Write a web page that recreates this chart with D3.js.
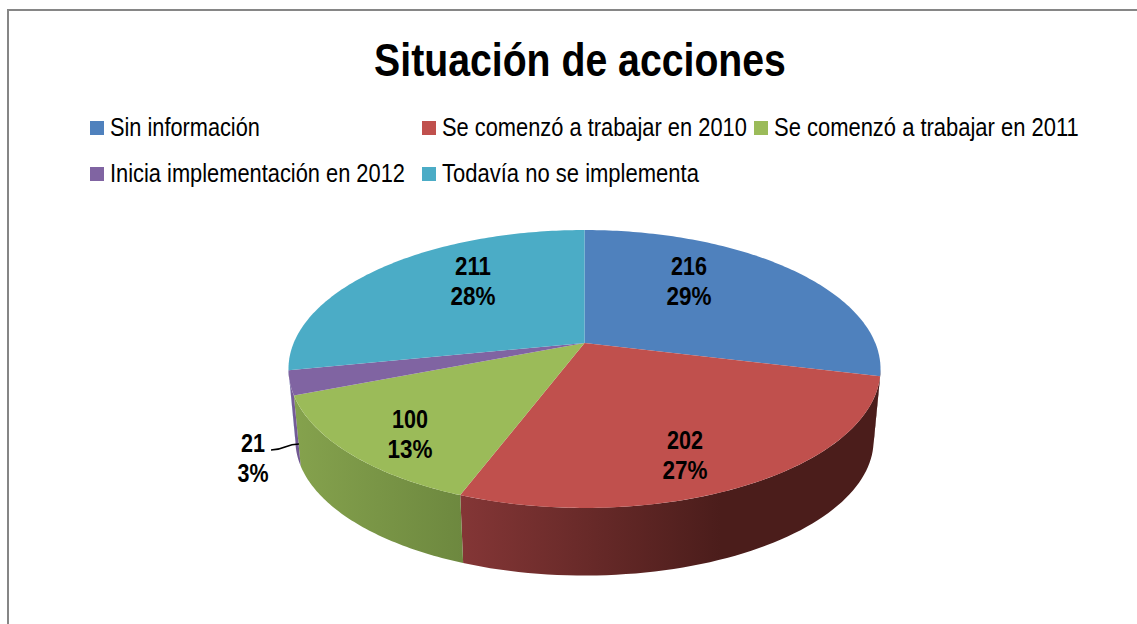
<!DOCTYPE html>
<html><head><meta charset="utf-8">
<script src="https://cdn.jsdelivr.net/npm/d3@7/dist/d3.min.js"></script>
<style>html,body{margin:0;padding:0;background:#fff;overflow:hidden}svg{display:block}
text{fill:#000}</style>
</head><body><svg id="c" width="1137" height="624"></svg>
<script>
const titleText = "Situación de acciones";
const categories = ["Sin información","Se comenzó a trabajar en 2010","Se comenzó a trabajar en 2011","Inicia implementación en 2012","Todavía no se implementa"];
const values = [216,202,100,21,211];
const percents = ["29%","27%","13%","3%","28%"];
const topColors = ["#4f81bd","#c0504d","#9bbb59","#8064a2","#4bacc6"];
const wallFrom = ["#4b1d1b","#4b1d1b","#6d883f","#6f5790","#4bacc6"];
const wallTo = ["#4b1d1b","#843636","#85a24d","#7a5f9c","#4bacc6"];

// layout (pixels): legend x, baseline, text width
const legendLayout = [[90,135,150],[422,135,305],[754,135,305],[90,181,295],[422,181,257]];
const labelLayout = [[689,275],[685,449],[410,428],[253,452],[473,275]];
const labelWidths = [[36,45],[36,45],[36,45],[24,31],[36,45]];
const cx=584.5, eyeK=0.187;
const planes = {top:{cy:343,a:290.8,b:134.1},bottom:{cy:415,a:284,b:130.5}};
const svg = d3.select("#c");

// draw text at x,y squeezed horizontally to a given pixel width
function fitted(x,y,str,size,weight,width,anchor,family){
  const t=svg.append("text").attr("font-size",size).attr("font-weight",weight)
    .style("font-family",family).attr("text-anchor",anchor).text(str);
  const natural=t.node().getComputedTextLength();
  t.attr("transform",`translate(${x},${y}) scale(${width/natural},1)`);
  return t;
}
const SANS='"Liberation Sans",Arial,sans-serif';

function project(angle,r,pl){
  const x=r*Math.sin(angle), y=r*Math.cos(angle), d=1+eyeK*y;
  return [cx+pl.a*x/d, pl.cy-pl.b*y/d];
}
const line=d3.line();
const pie=d3.pie().sort(null).value(d=>d)(values);
const frontStart=Math.acos(-eyeK), frontEnd=2*Math.PI-frontStart;

svg.append("rect").attr("x",8).attr("y",10).attr("width",1160).attr("height",660)
  .attr("fill","#fff").attr("stroke","#868686").attr("stroke-width",2);

fitted(580,76,titleText,47,700,412,"middle",SANS);

categories.forEach((c,i)=>{
  const [x,base,w]=legendLayout[i];
  svg.append("rect").attr("x",x).attr("y",base-14).attr("width",14).attr("height",14).attr("fill",topColors[i]);
  fitted(x+20,base+1,c,25,400,w,"start",SANS);
});

const defs=svg.append("defs");
// walls
pie.forEach((p,i)=>{
  const s=Math.max(p.startAngle,frontStart), e=Math.min(p.endAngle,frontEnd);
  if(e<=s) return;
  const ts=d3.range(0,61).map(k=>s+(e-s)*k/60);
  const pts=ts.map(t=>project(t,1,planes.top)).concat(ts.slice().reverse().map(t=>project(t,1,planes.bottom)));
  const xs=pts.map(q=>q[0]);
  const g=defs.append("linearGradient").attr("id","w"+i).attr("gradientUnits","userSpaceOnUse")
    .attr("x1",d3.max(xs)).attr("x2",d3.min(xs)).attr("y1",0).attr("y2",0);
  g.append("stop").attr("offset",0).attr("stop-color",wallFrom[i]);
  if(i==1) g.append("stop").attr("offset",0.38).attr("stop-color","#4b1d1b");
  g.append("stop").attr("offset",1).attr("stop-color",wallTo[i]);
  svg.append("path").attr("d",line(pts)+"Z").attr("fill",`url(#w${i})`);
});
// top
pie.forEach((p,i)=>{
  const n=Math.max(8,Math.ceil((p.endAngle-p.startAngle)*60));
  const pts=[project(0,0,planes.top)].concat(d3.range(0,n+1).map(k=>project(p.startAngle+(p.endAngle-p.startAngle)*k/n,1,planes.top)));
  svg.append("path").attr("d",line(pts)+"Z").attr("fill",topColors[i]);
});
// leader
svg.append("path").attr("d",d3.line().curve(d3.curveBumpX)(d3.zip([271,299],[450,444])))
  .attr("fill","none").attr("stroke","#000").attr("stroke-width",1.5);
// labels
values.forEach((v,i)=>{
  const [x,y]=labelLayout[i];
  [String(v),percents[i]].forEach((t,j)=>{
    fitted(x,y+j*30,t,25,700,labelWidths[i][j],"middle",SANS);
  });
});
</script></body></html>
